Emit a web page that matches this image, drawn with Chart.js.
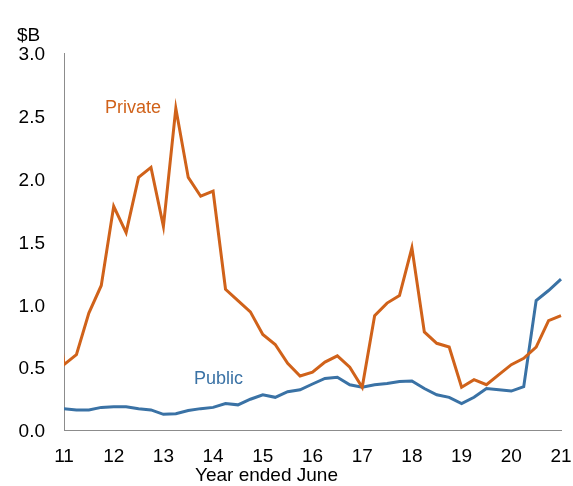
<!DOCTYPE html>
<html>
<head>
<meta charset="utf-8">
<script src="https://cdn.jsdelivr.net/npm/chart.js@4"></script>
<style>
  body { margin: 0; background: #fff; }
  canvas { display: block; }
</style>
</head>
<body>
<canvas id="chart" width="573" height="486"></canvas>
<script>
// quarters, year ended June (first one sits just left of the axis)
const quarters = [
  'Mar-11',
  'Jun-11', 'Sep-11', 'Dec-11', 'Mar-12', 'Jun-12', 'Sep-12', 'Dec-12', 'Mar-13',
  'Jun-13', 'Sep-13', 'Dec-13', 'Mar-14', 'Jun-14', 'Sep-14', 'Dec-14', 'Mar-15',
  'Jun-15', 'Sep-15', 'Dec-15', 'Mar-16', 'Jun-16', 'Sep-16', 'Dec-16', 'Mar-17',
  'Jun-17', 'Sep-17', 'Dec-17', 'Mar-18', 'Jun-18', 'Sep-18', 'Dec-18', 'Mar-19',
  'Jun-19', 'Sep-19', 'Dec-19', 'Mar-20', 'Jun-20', 'Sep-20', 'Dec-20', 'Mar-21',
  'Jun-21'
];

// $B
const privateVals = [
  1.30,
  0.52, 0.60, 0.93, 1.15, 1.78, 1.57, 2.01, 2.09,
  1.62, 2.56, 2.01, 1.86, 1.90, 1.12, 1.03, 0.94,
  0.76, 0.68, 0.53, 0.43, 0.46, 0.54, 0.59, 0.50,
  0.34, 0.91, 1.01, 1.07, 1.45, 0.78, 0.69, 0.66,
  0.34, 0.40, 0.36, 0.44, 0.52, 0.57, 0.66, 0.87,
  0.91
];
const publicVals = [
  0.17,
  0.17, 0.16, 0.16, 0.18, 0.185, 0.185, 0.17, 0.16,
  0.125, 0.13, 0.155, 0.17, 0.18, 0.21, 0.20, 0.245,
  0.28, 0.26, 0.305, 0.32, 0.366, 0.41, 0.42, 0.36,
  0.34, 0.36, 0.37, 0.385, 0.39, 0.33, 0.28, 0.26,
  0.21, 0.26, 0.33, 0.32, 0.31, 0.345, 1.03, 1.11,
  1.20
];
const yTicks = [0, 0.5, 1, 1.5, 2, 2.5, 3];

const ORANGE = '#D0621A';
const BLUE = '#3A72A5';
const FONT = { family: '"Liberation Sans", Arial, sans-serif', size: 19 };

// texte libre : unité, titre de l'axe x et étiquettes des séries
const labelsPlugin = {
  id: 'labels',
  afterDraw(chart) {
    const ctx = chart.ctx;
    ctx.save();
    ctx.textBaseline = 'alphabetic';
    ctx.textAlign = 'left';
    ctx.fillStyle = '#000';
    ctx.font = '19px "Liberation Sans", Arial, sans-serif';
    ctx.fillText('$B', 17, 41);
    ctx.fillText('Year ended June', 195, 481);
    ctx.font = '18px "Liberation Sans", Arial, sans-serif';
    ctx.fillStyle = ORANGE;
    ctx.fillText('Private', 105, 113);
    ctx.fillStyle = BLUE;
    ctx.fillText('Public', 194, 384);
    ctx.restore();
  }
};

new Chart(document.getElementById('chart'), {
  type: 'line',
  data: {
    labels: quarters,
    datasets: [
      { data: privateVals, borderColor: ORANGE, borderWidth: 3, pointRadius: 0, tension: 0 },
      { data: publicVals, borderColor: BLUE, borderWidth: 3, pointRadius: 0, tension: 0 }
    ]
  },
  options: {
    responsive: false,
    animation: false,
    layout: { padding: { top: 53, right: 12, bottom: 0, left: 0 } },
    plugins: { legend: { display: false }, tooltip: { enabled: false } },
    scales: {
      x: {
        type: 'category',
        min: 'Jun-11',
        offset: false,
        grid: { display: false, drawTicks: false },
        border: { display: true, color: '#8c8c8c', width: 1 },
        ticks: {
          autoSkip: false,
          maxRotation: 0,
          padding: 15,
          color: '#000',
          font: FONT,
          callback: function (value) {
            const l = this.getLabelForValue(value);
            return l.startsWith('Jun') ? l.slice(4) : '';
          }
        },
        afterFit: s => { s.height = 56; s.paddingLeft = 0; s.paddingRight = 0; }
      },
      y: {
        min: 0,
        max: 3,
        grid: { display: false, drawTicks: false },
        border: { display: true, color: '#8c8c8c', width: 1 },
        afterBuildTicks: s => { s.ticks = yTicks.map(v => ({ value: v })); },
        ticks: {
          padding: 19,
          labelOffset: 2,
          color: '#000',
          font: FONT,
          callback: v => v.toFixed(1)
        },
        afterFit: s => { s.width = 64; s.paddingTop = 0; s.paddingBottom = 0; }
      }
    }
  },
  plugins: [labelsPlugin]
});
</script>
</body>
</html>
